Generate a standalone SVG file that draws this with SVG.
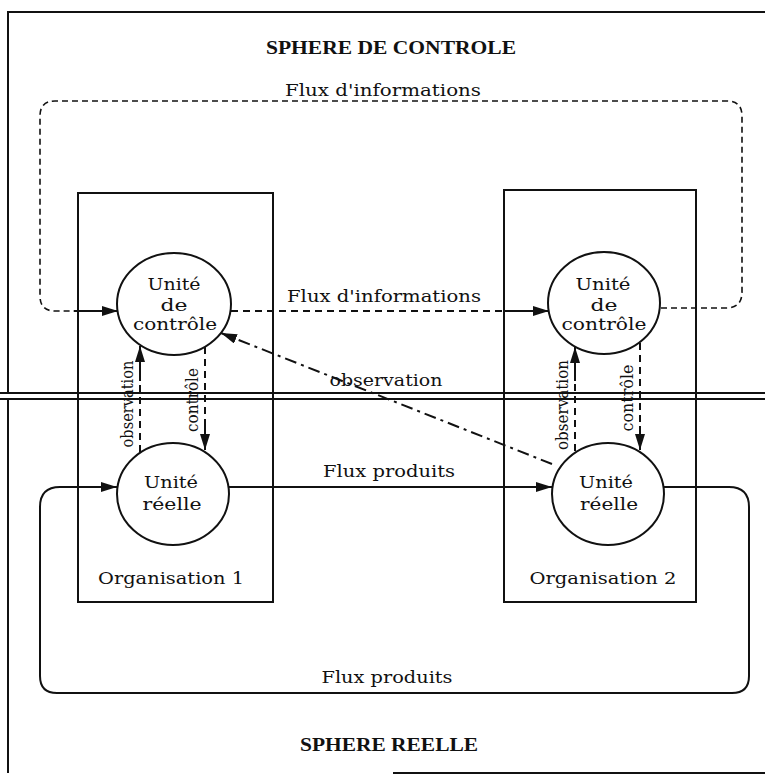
<svg xmlns="http://www.w3.org/2000/svg" width="765" height="782" viewBox="0 0 765 782">
<style>
.t{font-family:"DejaVu Serif","Liberation Serif",serif;font-size:17px;fill:#111;text-anchor:middle}
.s{font-size:16px}
.b{font-family:"Liberation Serif","DejaVu Serif",serif;font-weight:bold;font-size:18px;fill:#111;text-anchor:middle}
.frame{fill:none;stroke:#111;stroke-width:2}
.box{fill:#fff;stroke:#111;stroke-width:2}
.node{fill:#fff;stroke:#111;stroke-width:2}
.solid{fill:none;stroke:#111;stroke-width:2}
.dash{fill:none;stroke:#111;stroke-width:2;stroke-dasharray:7 5}
.dash2{fill:none;stroke:#111;stroke-width:1.6;stroke-dasharray:6 4}
.dd{fill:none;stroke:#111;stroke-width:2;stroke-dasharray:12 5 3 5}
</style>
<defs>
<marker id="ah" viewBox="0 0 16 10" refX="16" refY="5" markerWidth="16" markerHeight="10" orient="auto" markerUnits="userSpaceOnUse"><path d="M0,0 L16,5 L0,10 z" fill="#111"/></marker>
</defs>
<rect width="765" height="782" fill="#fff"/>
<g id="frame">
<path class="frame" d="M765,12 H8 V393 H765"/>
<path class="frame" d="M765,399 H8 V773"/>
<path class="frame" d="M393,773 H765"/>
<text class="b" x="391" y="54" textLength="250" lengthAdjust="spacingAndGlyphs">SPHERE DE CONTROLE</text>
<text class="b" x="389" y="751" textLength="178" lengthAdjust="spacingAndGlyphs">SPHERE REELLE</text>
</g>
<g id="org1">
<rect class="box" x="78" y="193" width="195" height="409"/>
<text class="t" x="171" y="584" textLength="146" lengthAdjust="spacingAndGlyphs">Organisation 1</text>
</g>
<g id="org2">
<rect class="box" x="504" y="190" width="192" height="412"/>
<text class="t" x="603" y="584" textLength="147" lengthAdjust="spacingAndGlyphs">Organisation 2</text>
</g>
<g id="separator">
<path class="frame" d="M0,393 H765 M0,399 H765" stroke-width="1.6"/>
</g>
<g id="connectors">
<path class="dash2" d="M661,308 H726 Q742,308 742,292 V116 Q742,101 727,101 H55 Q40,101 40,116 V296 Q40,311 55,311 H74"/>
<path class="solid" d="M74,311 H118" marker-end="url(#ah)"/>
<path class="dash" d="M231,311 H503"/>
<path class="solid" d="M503,311 H549" marker-end="url(#ah)"/>
<path class="dash" d="M140,452 V380"/>
<path class="solid" d="M140,381 V346" marker-end="url(#ah)"/>
<path class="dash" d="M205,347 V428"/>
<path class="solid" d="M205,426 V450" marker-end="url(#ah)"/>
<path class="dash" d="M575,451 V380"/>
<path class="solid" d="M575,381 V347" marker-end="url(#ah)"/>
<path class="dash" d="M640,343 V428"/>
<path class="solid" d="M640,426 V450" marker-end="url(#ah)"/>
<path class="dd" d="M552,464 L221,333" marker-end="url(#ah)"/>
<path class="solid" d="M229,487 H552" marker-end="url(#ah)"/>
<path class="solid" d="M664,487 H729 Q749,487 749,507 V676 Q749,693 732,693 H57 Q40,693 40,676 V507 Q40,487 60,487 H117" marker-end="url(#ah)"/>
<text class="t" x="383" y="96" textLength="196" lengthAdjust="spacingAndGlyphs">Flux d'informations</text>
<text class="t" x="384" y="302" textLength="194" lengthAdjust="spacingAndGlyphs">Flux d'informations</text>
<text class="t" x="386" y="386" textLength="113" lengthAdjust="spacingAndGlyphs">observation</text>
<text class="t" x="389" y="477" textLength="132" lengthAdjust="spacingAndGlyphs">Flux produits</text>
<text class="t" x="387" y="683" textLength="131" lengthAdjust="spacingAndGlyphs">Flux produits</text>
<text class="t s" transform="translate(133,404) rotate(-90)" textLength="87" lengthAdjust="spacingAndGlyphs">observation</text>
<text class="t s" transform="translate(198,400) rotate(-90)" textLength="64" lengthAdjust="spacingAndGlyphs">contrôle</text>
<text class="t s" transform="translate(568,405) rotate(-90)" textLength="90" lengthAdjust="spacingAndGlyphs">observation</text>
<text class="t s" transform="translate(633,398) rotate(-90)" textLength="67" lengthAdjust="spacingAndGlyphs">contrôle</text>
</g>
<g id="uc1">
<ellipse class="node" cx="174" cy="304" rx="57" ry="51"/>
<text class="t" x="174" y="290" textLength="53" lengthAdjust="spacingAndGlyphs">Unité</text>
<text class="t" x="174" y="311" textLength="27" lengthAdjust="spacingAndGlyphs">de</text>
<text class="t" x="175" y="330" textLength="84" lengthAdjust="spacingAndGlyphs">contrôle</text>
</g>
<g id="uc2">
<ellipse class="node" cx="604" cy="303" rx="56" ry="51"/>
<text class="t" x="603" y="290" textLength="55" lengthAdjust="spacingAndGlyphs">Unité</text>
<text class="t" x="604" y="311" textLength="27" lengthAdjust="spacingAndGlyphs">de</text>
<text class="t" x="604" y="330" textLength="85" lengthAdjust="spacingAndGlyphs">contrôle</text>
</g>
<g id="ur1">
<ellipse class="node" cx="173" cy="494" rx="56" ry="51"/>
<text class="t" x="171" y="488" textLength="54" lengthAdjust="spacingAndGlyphs">Unité</text>
<text class="t" x="172" y="510" textLength="59" lengthAdjust="spacingAndGlyphs">réelle</text>
</g>
<g id="ur2">
<ellipse class="node" cx="608" cy="494" rx="56" ry="51"/>
<text class="t" x="606" y="488" textLength="54" lengthAdjust="spacingAndGlyphs">Unité</text>
<text class="t" x="609" y="510" textLength="58" lengthAdjust="spacingAndGlyphs">réelle</text>
</g>
</svg>
